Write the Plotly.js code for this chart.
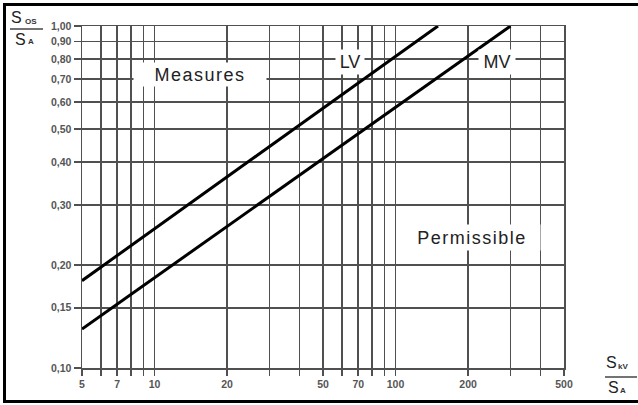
<!DOCTYPE html>
<html>
<head>
<meta charset="utf-8">
<script src="https://cdn.plot.ly/plotly-3.0.1.min.js"></script>
<style>
  html, body { margin: 0; padding: 0; background: #fff; }
  #chart { width: 638px; height: 405px; position: absolute; left: 0; top: 0; }
  #frame { position: absolute; left: 3px; top: 3px; width: 640px; height: 394px; border: 3px solid #000; pointer-events: none; }
  g.annotation[data-index="0"] text, g.annotation[data-index="3"] text { letter-spacing: 1.5px; }
</style>
</head>
<body>
<div id="chart"></div>
<div id="frame"></div>
<script>
// ---- data ----
const lvX = [5, 150];
const lvY = [0.18, 1.0];
const mvX = [5, 300];
const mvY = [0.13, 1.0];

const xTickVals = [5, 6, 7, 8, 9, 10, 20, 30, 40, 50, 60, 70, 80, 90, 100, 200, 300, 400, 500];
const xTickText = ['5', '', '7', '', '', '10', '20', '', '', '50', '', '70', '', '', '100', '200', '', '', '500'];
const yTickVals = [0.10, 0.15, 0.20, 0.30, 0.40, 0.50, 0.60, 0.70, 0.80, 0.90, 1.00];
const yTickText = ['0,10', '0,15', '0,20', '0,30', '0,40', '0,50', '0,60', '0,70', '0,80', '0,90', '1,00'];

const regionLabels = ['Measures', 'LV', 'MV', 'Permissible'];
const regionX = [15.4, 64.5, 264, 207];
const regionY = [0.72, 0.785, 0.785, 0.241];

// axis title pieces: main letter + subscript
const yTitleMain = ['S', 'S'];
const yTitleSub = ['OS', 'A'];
const xTitleMain = ['S', 'S'];
const xTitleSub = ['kV', 'A'];

// ---- layout helpers (pixel -> paper) ----
const M = {l: 82, r: 74, t: 26, b: 37};
const W = 638, H = 405;
const PW = W - M.l - M.r, PH = H - M.t - M.b;
const px = x => (x - M.l) / PW;
const py = y => (H - M.b - y) / PH;

const gridCol = '#505050';
const tickFont = {family: 'Liberation Sans, Arial, sans-serif', size: 10.5, color: '#555'};

const traces = [
  {x: lvX, y: lvY, type: 'scatter', mode: 'lines', line: {color: '#000', width: 3}, name: 'LV', showlegend: false},
  {x: mvX, y: mvY, type: 'scatter', mode: 'lines', line: {color: '#000', width: 3}, name: 'MV', showlegend: false}
];

const labelFont = {family: 'Liberation Sans, Arial, sans-serif', size: 18, color: '#222'};
const boxW = [132, 28, 36, 136];
const boxH = [23, 24, 24, 25];
const annotations = regionLabels.map((t, i) => ({
  x: Math.log10(regionX[i]), y: Math.log10(regionY[i]), xref: 'x', yref: 'y',
  text: t, showarrow: false, font: labelFont, bgcolor: '#fff',
  width: boxW[i], height: boxH[i], borderpad: 0, xanchor: 'center', yanchor: 'middle'
}));

const mainFont = {family: 'Liberation Sans, Arial, sans-serif', size: 16, color: '#222'};
const subFont = {family: 'Liberation Sans, Arial, sans-serif', size: 8, color: '#333', weight: 'bold'};
function piece(text, font, xPix, yPix) {
  return {xref: 'paper', yref: 'paper', x: px(xPix), y: py(yPix), xanchor: 'left', yanchor: 'middle',
          text: text, showarrow: false, font: font, borderpad: 0};
}
annotations.push(
  piece(yTitleMain[0], mainFont, 10, 17.5),
  piece(yTitleSub[0], subFont, 24, 21.5),
  piece(yTitleMain[1], mainFont, 14, 39.5),
  piece(yTitleSub[1], subFont, 27, 41.5),
  piece(xTitleMain[0], mainFont, 605, 362.5),
  piece(xTitleSub[0], subFont, 617, 366.5),
  piece(xTitleMain[1], mainFont, 607, 387),
  piece(xTitleSub[1], subFont, 619, 391)
);

const shapes = [
  {type: 'line', xref: 'paper', yref: 'paper', x0: px(10), x1: px(43), y0: py(29), y1: py(29), line: {color: '#444', width: 1.5}},
  {type: 'line', xref: 'paper', yref: 'paper', x0: px(605), x1: px(637), y0: py(377), y1: py(377), line: {color: '#444', width: 1.5}}
];

const layout = {
  width: W, height: H,
  margin: M,
  paper_bgcolor: '#fff', plot_bgcolor: '#fff',
  showlegend: false,
  xaxis: {
    type: 'log', range: [Math.log10(5), Math.log10(500)],
    tickmode: 'array', tickvals: xTickVals, ticktext: xTickText.map(t => t ? '<b>' + t + '</b>' : ''),
    showgrid: true, gridcolor: gridCol, gridwidth: 1.5,
    ticks: 'outside', ticklen: 6, tickwidth: 1.5, tickcolor: gridCol,
    showline: true, mirror: true, linecolor: gridCol, linewidth: 1.5,
    tickfont: tickFont, zeroline: false, fixedrange: true
  },
  yaxis: {
    type: 'log', range: [-1, 0],
    tickmode: 'array', tickvals: yTickVals, ticktext: yTickText.map(t => '<b>' + t + '</b>'),
    showgrid: true, gridcolor: gridCol, gridwidth: 1.5,
    ticks: 'outside', ticklen: 7, tickwidth: 1.5, tickcolor: gridCol,
    showline: true, mirror: true, linecolor: gridCol, linewidth: 1.5,
    tickfont: tickFont, zeroline: false, fixedrange: true
  },
  annotations: annotations,
  shapes: shapes
};

Plotly.newPlot('chart', traces, layout, {displayModeBar: false, staticPlot: true});
</script>
</body>
</html>
